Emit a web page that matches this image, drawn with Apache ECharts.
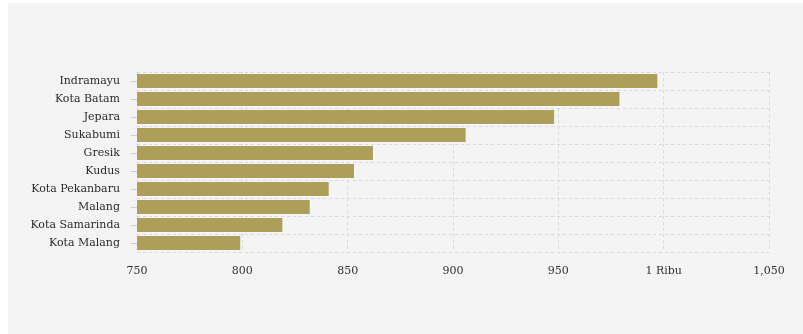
<!DOCTYPE html>
<html><head><meta charset="utf-8">
<script src="https://cdn.jsdelivr.net/npm/echarts@6/dist/echarts.min.js"></script>
<style>
html,body{margin:0;padding:0;background:#fff;width:803px;height:334px;overflow:hidden}
#c{position:absolute;left:8px;top:3px;width:795px;height:331px;background:#f4f4f4}
</style></head>
<body><div id="c"></div>
<script>
const categories = ["Indramayu","Kota Batam","Jepara","Sukabumi","Gresik","Kudus","Kota Pekanbaru","Malang","Kota Samarinda","Kota Malang"];
const values = [997, 979, 948, 906, 862, 853, 841, 832, 819, 799];
const tickValues = [750, 800, 850, 900, 950, 1000, 1050];
const tickLabels = ["750", "800", "850", "900", "950", "1 Ribu", "1,050"];

const chart = echarts.init(document.getElementById('c'));
const font = '"DejaVu Serif", serif';
chart.setOption({
  backgroundColor: '#f4f4f4',
  animation: false,
  grid: {left: 129, right: 34, top: 69, bottom: 82, containLabel: false},
  xAxis: {
    type: 'value', min: 750, max: 1050, interval: 50,
    axisLine: {show: false}, axisTick: {show: false},
    splitLine: {show: true, lineStyle: {color: '#d9d9d9', type: [3, 3], width: 1}},
    axisLabel: {
      margin: 14, color: '#333', fontFamily: font, fontSize: 11,
      formatter: v => { const i = tickValues.indexOf(v); return i >= 0 ? tickLabels[i] : ''; }
    }
  },
  yAxis: {
    type: 'category', data: categories, inverse: true,
    axisLine: {show: false},
    axisTick: {show: true, alignWithLabel: true, length: 6, lineStyle: {color: '#d0d0d0'}},
    splitLine: {show: true, lineStyle: {color: '#d9d9d9', type: [3, 3], width: 1}},
    axisLabel: {margin: 17, color: '#2b2b2b', fontFamily: font, fontSize: 11}
  },
  series: [{
    type: 'bar', data: values, barWidth: 14,
    itemStyle: {color: '#ad9f5a'}
  }]
});
</script></body></html>
